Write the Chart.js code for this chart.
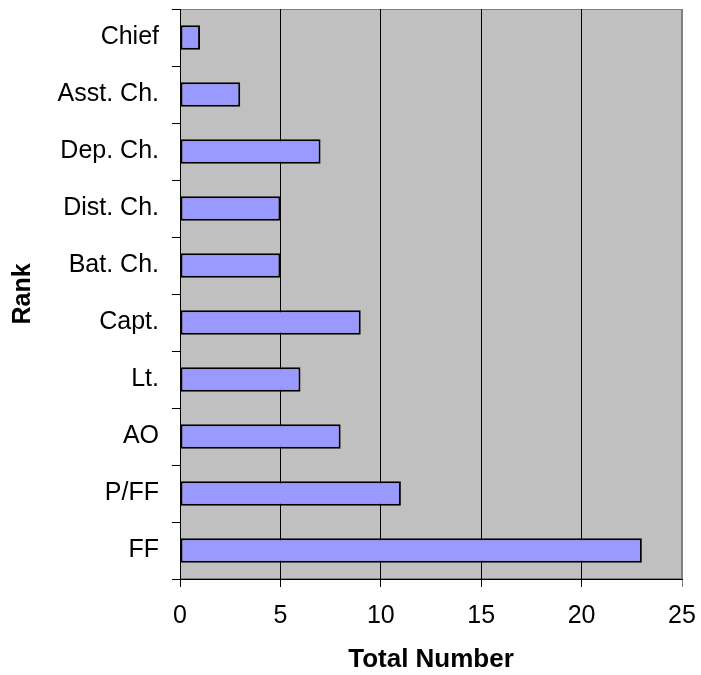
<!DOCTYPE html>
<html>
<head>
<meta charset="utf-8">
<script src="https://cdn.jsdelivr.net/npm/chart.js@4/dist/chart.umd.min.js"></script>
<style>
  html, body { margin: 0; padding: 0; background: #ffffff; }
  #wrap { width: 701px; height: 675px; }
</style>
</head>
<body>
<div id="wrap"><canvas id="c" width="701" height="675"></canvas></div>
<script>
// Personnel counts by rank
const ranks = ['Chief', 'Asst. Ch.', 'Dep. Ch.', 'Dist. Ch.', 'Bat. Ch.', 'Capt.', 'Lt.', 'AO', 'P/FF', 'FF'];
const totals = [1, 3, 7, 5, 5, 9, 6, 8, 11, 23];
const xTicks = [0, 5, 10, 15, 20, 25];

const FONT = '"Liberation Sans", Arial, sans-serif';

// Grey plot background with a thin grey frame
const plotBackground = {
  id: 'plotBackground',
  beforeDraw(chart) {
    const { ctx, chartArea: a } = chart;
    ctx.save();
    ctx.fillStyle = '#c0c0c0';
    ctx.fillRect(a.left, a.top, a.right - a.left, a.bottom - a.top);
    ctx.strokeStyle = '#808080';
    ctx.lineWidth = 1;
    ctx.strokeRect(a.left + 0.5, a.top + 0.5, a.right - a.left - 1, a.bottom - a.top - 1);
    ctx.restore();
  }
};

// Keep the plot area fixed: no extra room reserved for overhanging labels
function noLabelPadding(scale) {
  scale.paddingTop = 0;
  scale.paddingBottom = 0;
  scale.paddingLeft = 0;
  scale.paddingRight = 0;
}

new Chart(document.getElementById('c'), {
  type: 'bar',
  data: {
    labels: ranks,
    datasets: [{
      data: totals,
      backgroundColor: '#9999ff',
      borderColor: '#000000',
      borderWidth: 2,
      borderSkipped: false,
      barPercentage: 0.43,
      categoryPercentage: 1
    }]
  },
  options: {
    indexAxis: 'y',
    responsive: false,
    animation: false,
    layout: { padding: { top: 9, right: 19, left: 0, bottom: 0 } },
    plugins: {
      legend: { display: false },
      tooltip: { enabled: false }
    },
    scales: {
      x: {
        min: 0,
        max: 25,
        afterBuildTicks(scale) { scale.ticks = xTicks.map(v => ({ value: v })); },
        afterFit(scale) { scale.height = 96; noLabelPadding(scale); },
        ticks: {
          color: '#000000',
          font: { family: FONT, size: 25 },
          padding: 14
        },
        grid: {
          color: (c) => (c.tick && c.tick.value === 25 ? '#808080' : '#000000'),
          lineWidth: 1,
          tickLength: 8,
          drawOnChartArea: true
        },
        border: { display: true, color: '#000000', width: 1 },
        title: {
          display: true,
          text: 'Total Number',
          color: '#000000',
          font: { family: FONT, size: 26, weight: 'bold' },
          padding: { top: 0, bottom: 0 }
        }
      },
      y: {
        afterFit(scale) { scale.width = 180; noLabelPadding(scale); },
        ticks: {
          color: '#000000',
          font: { family: FONT, size: 25 },
          padding: 13
        },
        grid: {
          offset: true,
          color: '#000000',
          lineWidth: 1,
          tickLength: 8,
          drawOnChartArea: false
        },
        border: { display: true, color: '#000000', width: 1 },
        title: {
          display: true,
          text: 'Rank',
          color: '#000000',
          font: { family: FONT, size: 25, weight: 'bold' },
          padding: { top: 8, bottom: 0 }
        }
      }
    }
  },
  plugins: [plotBackground]
});
</script>
</body>
</html>
